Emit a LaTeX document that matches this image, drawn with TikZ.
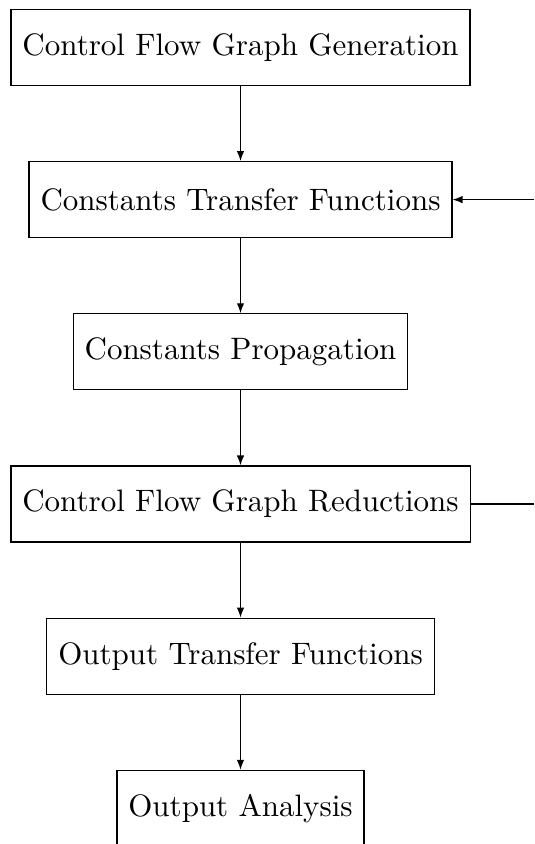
\documentclass[tikz,border=0pt]{standalone}
\usetikzlibrary{arrows.meta}
\begin{document}
\begin{tikzpicture}[x=0.3226pt, y=-0.3226pt,
  stage/.style={draw, rectangle, line width=0.4pt, inner xsep=3.7pt,
    minimum height=24.5pt, font=\fontsize{10}{12}\selectfont},
  flow/.style={-{Latex[length=3.2pt, width=2.4pt]}, line width=0.4pt}]
  \useasboundingbox (0,0) rectangle (534,844);
  \node[stage] (cfg)  at (240.5, 47.4)  {Control Flow Graph Generation};
  \node[stage] (ctf)  at (240.5, 199.6) {Constants Transfer Functions};
  \node[stage] (cp)   at (240.5, 351.8) {Constants Propagation};
  \node[stage] (red)  at (240.5, 504.0) {Control Flow Graph Reductions};
  \node[stage] (otf)  at (240.5, 656.2) {Output Transfer Functions};
  \node[stage] (oa)   at (240.5, 808.4) {Output Analysis};
  % feedback loop leaving and re-entering on the right
  \coordinate (loopin)  at (534, 199.6);
  \coordinate (loopout) at (534, 504.0);
  \draw[flow] (cfg) -- (ctf);
  \draw[flow] (ctf) -- (cp);
  \draw[flow] (cp)  -- (red);
  \draw[flow] (red) -- (otf);
  \draw[flow] (otf) -- (oa);
  \draw[flow] (loopin) -- (ctf.east);
  \draw (red.east) -- (loopout);
\end{tikzpicture}
\end{document}
